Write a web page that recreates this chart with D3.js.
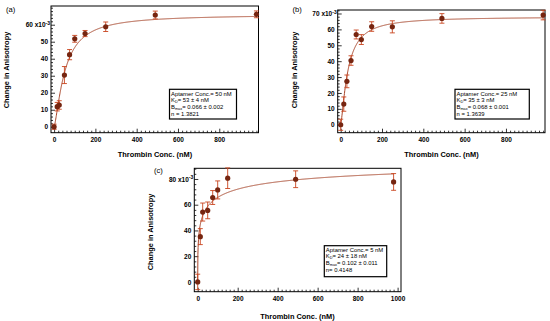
<!DOCTYPE html>
<html>
<head>
<meta charset="utf-8">
<script src="https://cdn.jsdelivr.net/npm/d3@7"></script>
<style>
body { margin: 0; background: #fff; }
svg { display: block; font-family: "Liberation Sans", Arial, sans-serif; }
</style>
</head>
<body>
<div class="container"></div>
<script>
const WIDTH = 550;
const HEIGHT = 321;

// (a) aptamer 50 nM  (anisotropy in units of 1e-3)
var concA = [0, 15, 25, 50, 75, 100, 150, 250, 490, 980];
var anisoA = [0, 11.8, 12.8, 30.4, 42.4, 51.7, 54.8, 58.8, 65.7, 66.1];
var errA = [1.5, 2.5, 2.5, 5, 3, 2, 1.8, 2.8, 2.3, 2];

// (b) aptamer 25 nM
var concB = [0, 15, 30, 50, 75, 100, 150, 250, 490, 980];
var anisoB = [0, 13, 27.3, 40.4, 56.8, 53.6, 61.8, 61.6, 66.9, 69];
var errB = [3.5, 4.5, 4, 3, 2.8, 3.1, 3, 3.8, 3, 3];

// (c) aptamer 5 nM
var concC = [0, 13, 25, 50, 75, 100, 150, 490, 980];
var anisoC = [0, 35.2, 54.3, 55.6, 65.6, 71.5, 80.6, 79.8, 77.7];
var errC = [6, 6.2, 7, 6.5, 5.4, 7, 8, 6.5, 6.5];

// Hill fit parameters from the legends
var fitBmax = [66, 68, 102];
var fitKd = [53, 35, 24];
var fitN = [1.3821, 1.3639, 0.4148];

var panelLabels = ["(a)", "(b)", "(c)"];
var aptamerConc = ["Aptamer Conc.= 50 nM", "Aptamer Conc.= 25 nM", "Aptamer Conc.= 5 nM"];
var kdText = ["= 53 \u00b1 4 nM", "= 35 \u00b1 3 nM", "= 24 \u00b1 18 nM"];
var bmaxText = ["= 0.066 \u00b1 0.002", "= 0.068 \u00b1 0.001", "= 0.102 \u00b1 0.011"];
var nText = ["n = 1.3821", "n = 1.3639", "n= 0.4148"];

var xTicksAB = [0, 200, 400, 600, 800];
var xTicksC = [0, 200, 400, 600, 800, 1000];
var yTicksA = [0, 10, 20, 30, 40, 50, 60];
var yTicksB = [0, 10, 20, 30, 40, 50, 60, 70];
var yTicksC = [0, 20, 40, 60, 80];

var MARKER = "#762510";
var ERRBAR = "#c8441e";
var CURVE = "#a8452a";

var translate = function (x, y) {
    return "translate(" + x + "," + y + ")";
};

var panels = [
    {conc: concA, aniso: anisoA, err: errA, xTicks: xTicksAB, yTicks: yTicksA,
     left: 51, right: 258.5, top: 6, bottom: 132.7,
     xDomain: [-15, 990], yDomain: [-3.5, 71], yMinor: 2,
     label: [6, 12], yTitle: [8.7, 70], xTitle: [155, 156.5], box: [169.5, 89.3, 67, 29.7]},
    {conc: concB, aniso: anisoB, err: errB, xTicks: xTicksAB, yTicks: yTicksB,
     left: 337.7, right: 545, top: 10, bottom: 132.7,
     xDomain: [-14.5, 989], yDomain: [-5, 72.2], yMinor: 2,
     label: [292.5, 11.8], yTitle: [296.7, 70], xTitle: [441.5, 156.5], box: [455, 89.3, 74.3, 29.7]},
    {conc: concC, aniso: anisoC, err: errC, xTicks: xTicksC, yTicks: yTicksC,
     left: 194.3, right: 401, top: 168.3, bottom: 291.7,
     xDomain: [-17, 1017], yDomain: [-7.6, 88.3], yMinor: 4,
     label: [154, 173.3], yTitle: [152.7, 232], xTitle: [297.5, 318.5], box: [324.3, 245.7, 62.4, 31]}
];

function hill(i, c) {
    var t = Math.pow(c, fitN[i]);
    return fitBmax[i] * t / (Math.pow(fitKd[i], fitN[i]) + t);
}

function styleAxis(g) {
    g.select(".domain").remove();
    g.selectAll(".tick line").attr("stroke", "#000").attr("stroke-width", 0.8);
    g.selectAll("text").attr("font-size", 6.5).attr("font-weight", "bold")
        .attr("font-family", "Liberation Sans, Arial, sans-serif").attr("fill", "#000");
}

function drawPanel(svg, p, i) {
    var x = d3.scaleLinear().domain(p.xDomain).range([p.left, p.right]);
    var y = d3.scaleLinear().domain(p.yDomain).range([p.bottom, p.top]);
    var g = svg.append("g");

    // minor ticks
    var xMinor = d3.range(0, p.xDomain[1], 20).filter(function (v) { return v % 200 !== 0; });
    g.append("g").attr("transform", translate(0, p.bottom))
        .call(d3.axisBottom(x).tickValues(xMinor).tickSize(-2).tickFormat(""))
        .call(styleAxis);
    var yMinor = d3.range(0, p.yDomain[1], p.yMinor).filter(function (v) { return p.yTicks.indexOf(v) < 0; });
    g.append("g").attr("transform", translate(p.left, 0))
        .call(d3.axisLeft(y).tickValues(yMinor).tickSize(-2).tickFormat(""))
        .call(styleAxis);

    // major ticks
    g.append("g").attr("transform", translate(0, p.bottom))
        .call(d3.axisBottom(x).tickValues(p.xTicks).tickSize(-4).tickPadding(4.5).tickFormat(d3.format("d")))
        .call(styleAxis);
    var yAx = g.append("g").attr("transform", translate(p.left, 0))
        .call(d3.axisLeft(y).tickValues(p.yTicks).tickSize(-4).tickPadding(3))
        .call(styleAxis);

    // top label gets the x10^-3 multiplier
    var topVal = p.yTicks[p.yTicks.length - 1];
    yAx.selectAll(".tick text").filter(function (d) { return d === topVal; })
        .each(function (d) {
            var t = d3.select(this).text("").attr("x", -1);
            t.append("tspan").text(d + " x10");
            t.append("tspan").attr("dy", -2.5).attr("font-size", 5).text("-3");
        });

    // frame
    g.append("rect")
        .attr("x", p.left).attr("y", p.top)
        .attr("width", p.right - p.left).attr("height", p.bottom - p.top)
        .attr("fill", "none").attr("stroke", "#000").attr("stroke-width", 1);

    // fit curve
    var xs = d3.range(0, p.conc[p.conc.length - 1] + 0.5, 1);
    g.append("path")
        .datum(xs)
        .attr("fill", "none").attr("stroke", CURVE).attr("stroke-width", 1)
        .attr("d", d3.line().x(function (c) { return x(c); }).y(function (c) { return y(hill(i, c)); }));

    // error bars
    var pts = p.conc.map(function (c, k) { return {c: c, v: p.aniso[k], e: p.err[k]}; });
    var eb = g.selectAll(".eb").data(pts).enter().append("g").attr("stroke", ERRBAR).attr("stroke-width", 0.9);
    eb.append("line")
        .attr("x1", function (d) { return x(d.c); }).attr("x2", function (d) { return x(d.c); })
        .attr("y1", function (d) { return y(d.v - d.e); }).attr("y2", function (d) { return y(d.v + d.e); });
    [-1, 1].forEach(function (s) {
        eb.append("line")
            .attr("x1", function (d) { return x(d.c) - 2.5; }).attr("x2", function (d) { return x(d.c) + 2.5; })
            .attr("y1", function (d) { return y(d.v + s * d.e); }).attr("y2", function (d) { return y(d.v + s * d.e); });
    });

    // markers
    g.selectAll(".pt").data(pts).enter().append("circle")
        .attr("cx", function (d) { return x(d.c); })
        .attr("cy", function (d) { return y(d.v); })
        .attr("r", 2.6).attr("fill", MARKER);

    // titles
    g.append("text").attr("x", p.label[0]).attr("y", p.label[1])
        .attr("font-size", 7.6).text(panelLabels[i]);
    g.append("text").attr("transform", translate(p.yTitle[0], p.yTitle[1]) + " rotate(-90)")
        .attr("text-anchor", "middle").attr("font-size", 7.4).attr("font-weight", "bold")
        .text("Change in Anisotropy");
    g.append("text").attr("x", p.xTitle[0]).attr("y", p.xTitle[1])
        .attr("text-anchor", "middle").attr("font-size", 7.4).attr("font-weight", "bold")
        .text("Thrombin Conc. (nM)");

    // legend box
    var b = p.box;
    g.append("rect").attr("x", b[0]).attr("y", b[1]).attr("width", b[2]).attr("height", b[3])
        .attr("fill", "#fff").attr("stroke", "#000").attr("stroke-width", 1.2);
    var tx = b[0] + 1.5;
    var fs = 5.9;
    g.append("text").attr("x", tx).attr("y", b[1] + 6.2).attr("font-size", fs).text(aptamerConc[i]);
    var kd = g.append("text").attr("x", tx).attr("y", b[1] + 12.6).attr("font-size", fs);
    kd.append("tspan").text("K");
    kd.append("tspan").attr("dy", 1.1).attr("font-size", 3.8).text("D");
    kd.append("tspan").attr("dy", -1.1).text(kdText[i]);
    var bm = g.append("text").attr("x", tx).attr("y", b[1] + 19.4).attr("font-size", fs);
    bm.append("tspan").text("B");
    bm.append("tspan").attr("dy", 1.1).attr("font-size", 3.8).text("max");
    bm.append("tspan").attr("dy", -1.1).text(bmaxText[i]);
    g.append("text").attr("x", tx).attr("y", b[1] + 26.6).attr("font-size", fs).text(nText[i]);
}

var svg = d3.select(".container").append("svg")
    .attr("width", WIDTH).attr("height", HEIGHT);

panels.forEach(function (p, i) { drawPanel(svg, p, i); });
</script>
</body>
</html>
